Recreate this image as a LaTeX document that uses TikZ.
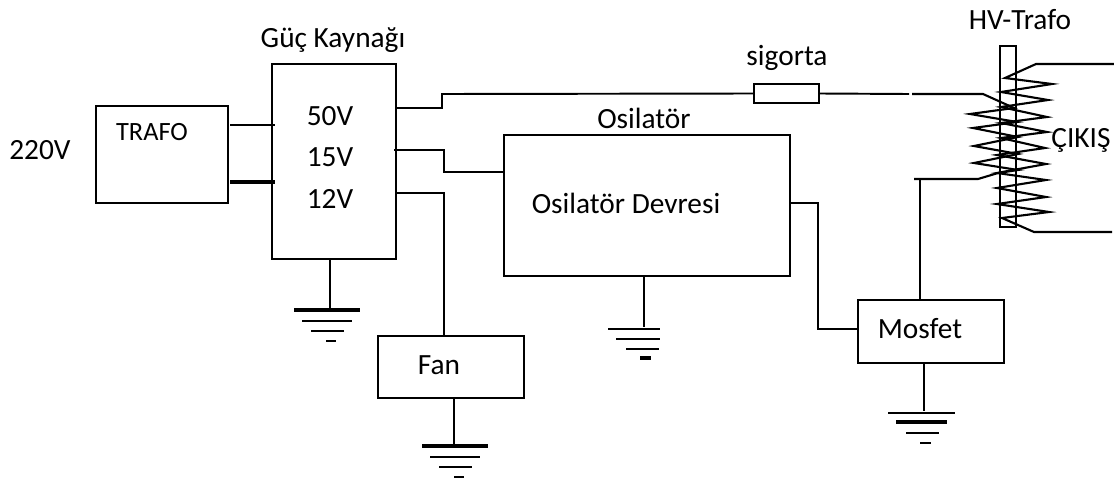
\documentclass[tikz,border=0pt]{standalone}
\usepackage{fontspec}
\setmainfont{Carlito}
\tikzset{
  blok/.style={draw,line width=1.1pt,inner sep=0pt},
  tel/.style={line width=1.1pt},
  yazi/.style={font=\fontsize{16.7}{19}\selectfont,inner sep=0pt,anchor=center},
  kalin/.style={line width=2pt},
  bobin/.style={line width=1.2pt,line join=miter}
}
\begin{document}
\begin{tikzpicture}[x=0.02cm,y=-0.02cm]
    \useasboundingbox (0,0) rectangle (1114,480);

    % bloklar
    \node[blok,minimum width=2.64cm,minimum height=1.94cm] (trafo) at (162,154.5) {};
    \node[blok,minimum width=2.48cm,minimum height=3.90cm] (kaynak) at (334,161.5) {};
    \node[blok,minimum width=5.72cm,minimum height=2.82cm] (osilator) at (647,205.5) {};
    \node[blok,minimum width=2.92cm,minimum height=1.24cm] (fan) at (451,367) {};
    \node[blok,minimum width=2.92cm,minimum height=1.26cm] (mosfet) at (931,331.5) {};
    \node[blok,minimum width=1.30cm,minimum height=0.38cm] (sigorta) at (786.5,93.5) {};
    \node[blok,minimum width=0.32cm,minimum height=3.62cm] (nuve) at (1008,136.5) {};

    % yazilar
    \node[yazi] (giris) at (40,150) {220V};
    \node[yazi,font=\fontsize{15}{17}\selectfont] (trafoyazi) at (152,132) {TRAFO};
    \node[yazi] (kaynakyazi) at (333,40) {Güç Kaynağı};
    \node[yazi] (v50) at (330,116) {50V};
    \node[yazi] (v15) at (330,157) {15V};
    \node[yazi] (v12) at (330,199) {12V};
    \node[yazi] (sigortayazi) at (787,58) {sigorta};
    \node[yazi] (osilatoryazi) at (644,118) {Osilatör};
    \node[yazi] (devreyazi) at (626,203) {Osilatör Devresi};
    \node[yazi] (fanyazi) at (439,365) {Fan};
    \node[yazi] (mosfetyazi) at (920,329) {Mosfet};
    \node[yazi] (hvyazi) at (1020,20) {HV-Trafo};
    \node[yazi] (cikis) at (1081,140) {ÇIKIŞ};

    % baglantilar
    \draw[tel] (230,125) -- (275,125);
    \draw[kalin] (230,182) -- (275,182);
    \draw[tel] (kaynak.east |- 0,108) -- (442,108) -- (442,94) -- (sigorta.west);
    \draw[tel] (394,150) -- (444,150) -- (444,172) -- (osilator.west |- 0,172);
    \draw[tel] (kaynak.east |- 0,193) -- (444,193) -- (fan.north -| 444,0);
    \draw[tel] (osilator.east |- 0,203) -- (818,203) -- (818,329) -- (mosfet.west |- 0,329);
    \draw[tel] (sigorta.east) -- (909,94);
    \draw[tel] (mosfet.north -| 920,0) -- (920,179);

    % bobinler
    \draw[bobin] (912,94) -- (983,94) -- (1014,108) -- (970,114) -- (1017,122) -- (973,128) -- (1018,137)
      -- (974,146) -- (1018,154) -- (974,163) -- (1018,170) -- (998,173) -- (978,179) -- (914,179);
    \draw[bobin] (1114,64) -- (1036,64) -- (1005,78) -- (1052,84) -- (1001,92) -- (1048,100) -- (1001,107)
      -- (1047,117) -- (1001,123) -- (1047,132) -- (1001,138) -- (1045,148) -- (997,155) -- (1046,164)
      -- (997,173) -- (1046,180) -- (997,188) -- (1046,197) -- (997,204) -- (1049,212) -- (1002,218)
      -- (1034,232) -- (1112,232);

    % toprak
    \draw[tel] (kaynak.south -| 330,0) -- (330,310);
    \draw[tel] (osilator.south -| 644,0) -- (644,327);
    \draw[tel] (fan.south -| 454,0) -- (454,446);
    \draw[tel] (mosfet.south -| 924,0) -- (924,411);
    \foreach \a/\b/\c/\k in {294/360/310/2,302/352/321/1.2,311/344/331/1.2,326/336/341/1.5,
                             608/660/329/1.2,616/660/339/1.2,626/659/349/1.2,640/651/358/2,
                             422/488/446/2,430/480/457/1.2,439/472/467/1.2,454/464/477/1.5,
                             888/955/413/1.2,896/947/422/2,906/939/433/1.2,920/931/443/1.2}
      \draw[line width=\k pt] (\a,\c) -- (\b,\c);
\end{tikzpicture}
\end{document}
